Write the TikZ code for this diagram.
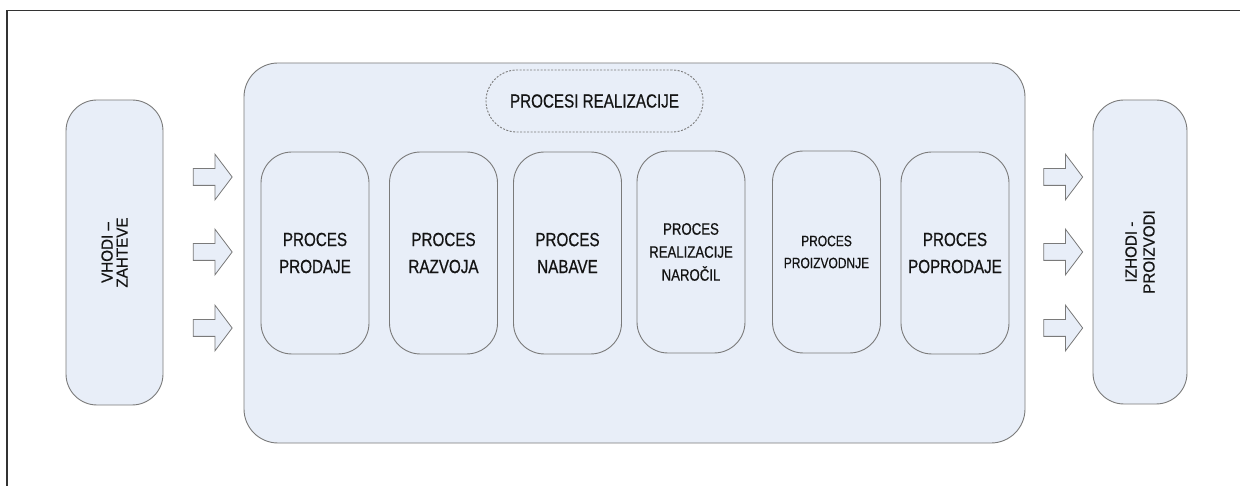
\documentclass[tikz,border=0pt]{standalone}
\usepackage{fontspec}
\setmainfont{Liberation Sans}
\newfontfamily\nar[FakeStretch=0.8,FakeBold=0.6]{Liberation Sans}
\newfontfamily\narb[FakeStretch=0.95,FakeBold=0.6]{Liberation Sans}
\usetikzlibrary{shapes.arrows}
\definecolor{boxfill}{HTML}{E8EEF8}
\definecolor{boxline}{HTML}{7A7A7A}
\definecolor{txt}{HTML}{141414}
\tikzset{
  rbox/.style={draw=boxline, fill=boxfill, line width=0.9pt, rounded corners=31pt, inner sep=0pt, text=txt, align=center},
  procbox/.style={rbox, minimum width=108pt, minimum height=202pt, font=\nar\fontsize{19}{27}\selectfont},
  sidebox/.style={rbox, minimum height=97pt, minimum width=305pt, rotate=90, font=\narb\fontsize{16}{15}\selectfont},
  blockarrow/.style={draw=boxline, fill=boxfill, line width=0.8pt, single arrow, shape border rotate=0, minimum height=39pt, minimum width=45pt, inner sep=8pt, single arrow head extend=14.5pt, single arrow tip angle=106},
  frameline/.style={draw=black!80, line width=1.2pt}
}
\begin{document}
\begin{tikzpicture}[x=1pt,y=-1pt]
\useasboundingbox (0,0) rectangle (1240,486);
\fill[white] (0,0) rectangle (1240,486);
\coordinate (fa) at (7,486);
\coordinate (fb) at (7,10.7);
\coordinate (fc) at (1240,10.7);
\draw[frameline] (fa) -- (fb) -- (fc);

\node[rbox, minimum width=781pt, minimum height=380pt, rounded corners=34pt] (main) at (634.5,253) {};
\node[rbox, dashed, dash pattern=on 2pt off 1.5pt, rounded corners=31pt, minimum width=217pt, minimum height=62pt, font=\nar\fontsize{19}{27}\selectfont] (title) at (594.5,101) {PROCESI REALIZACIJE};

\node[procbox] (p1) at (315,253) {PROCES\\PRODAJE};
\node[procbox] (p2) at (443.5,253) {PROCES\\RAZVOJA};
\node[procbox] (p3) at (567.5,253) {PROCES\\NABAVE};
\node[procbox, font=\nar\fontsize{16.5}{23}\selectfont] (p4) at (691,252) {PROCES\\REALIZACIJE\\NAROČIL};
\node[procbox, font=\nar\fontsize{15}{22}\selectfont] (p5) at (826.5,252) {PROCES\\PROIZVODNJE};
\node[procbox] (p6) at (955,253) {PROCES\\POPRODAJE};

\node[sidebox, minimum height=97pt] (in) at (114.5,252.5) {VHODI –\\ZAHTEVE};
\node[sidebox, minimum height=94pt, minimum width=304pt, font=\narb\fontsize{16}{18}\selectfont] (out) at (1140,252) {IZHODI -\\PROIZVODI};

\node[blockarrow] (la1) at (209.5,177) {};
\node[blockarrow] (la2) at (209.5,252) {};
\node[blockarrow] (la3) at (209.5,328) {};
\node[blockarrow] (ra1) at (1060,177) {};
\node[blockarrow] (ra2) at (1060,252) {};
\node[blockarrow] (ra3) at (1060,328) {};
\end{tikzpicture}
\end{document}
